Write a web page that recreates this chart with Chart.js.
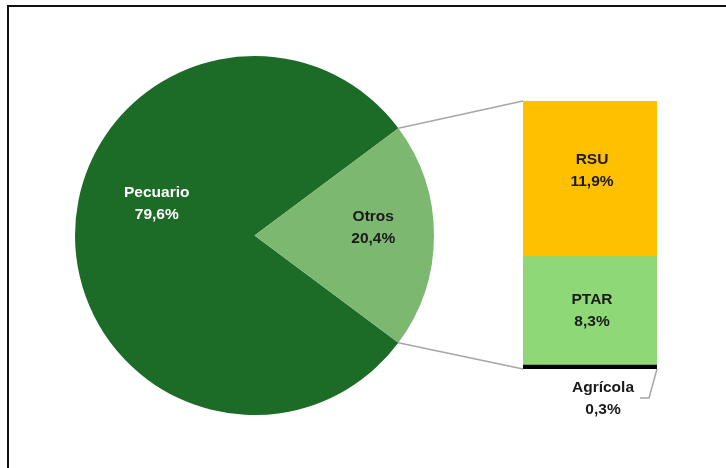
<!DOCTYPE html>
<html lang="es">
<head>
<meta charset="utf-8">
<title>Emisiones por sector</title>
<script src="https://cdn.jsdelivr.net/npm/chart.js@4"></script>
<style>
  html, body { margin: 0; padding: 0; background: #fff; }
  #wrap { position: relative; width: 726px; height: 468px; overflow: hidden; }
  #wrap canvas { position: absolute; left: 0; top: 0; }
  #frame {
    position: absolute; left: 7px; top: 5px; width: 740px; height: 480px;
    border-top: 2px solid #111; border-left: 2px solid #111;
  }
</style>
</head>
<body>
<div id="wrap">
  <div id="frame"></div>
  <canvas id="pie" width="726" height="468"></canvas>
  <canvas id="bar" width="726" height="468"></canvas>
</div>
<script>
// Reparto principal
const pieLabels = ['Pecuario', 'Otros'];
const pieValues = [79.6, 20.4];
const pieColors = ['#1C6B26', '#7DB871'];

// Desglose de "Otros" (de abajo hacia arriba)
const barLabels = ['Agrícola', 'PTAR', 'RSU'];
const barValues = [0.3, 8.3, 11.9];
const barColors = ['#000000', '#8ED877', '#FFC000'];

const FONT = 'bold 15.5px "Liberation Sans", Arial, sans-serif';
const fmt = v => v.toFixed(1).replace('.', ',') + '%';

function twoLines(ctx, x, y, a, b, color) {
  ctx.save();
  ctx.font = FONT;
  ctx.fillStyle = color;
  ctx.textAlign = 'center';
  ctx.textBaseline = 'middle';
  ctx.fillText(a, x, y - 11);
  ctx.fillText(b, x, y + 11);
  ctx.restore();
}

// etiquetas de la torta, desplazadas desde el punto medio de cada sector
const pieLabelPlugin = {
  id: 'pieLabels',
  afterDatasetsDraw(chart) {
    const shift = [[-8, -32], [29, -8]];
    const textColor = ['#ffffff', '#1a1a1a'];
    chart.getDatasetMeta(0).data.forEach((arc, i) => {
      const p = arc.tooltipPosition();
      twoLines(chart.ctx, p.x + shift[i][0], p.y + shift[i][1],
        pieLabels[i], fmt(pieValues[i]), textColor[i]);
    });
  }
};

// giro para que "Otros" quede centrado a la derecha
const otrosSweep = pieValues[1] / pieValues.reduce((a, b) => a + b, 0) * 360;

const pieChart = new Chart(document.getElementById('pie'), {
  type: 'pie',
  data: {
    labels: pieLabels,
    datasets: [{ data: pieValues, backgroundColor: pieColors, borderWidth: 0 }]
  },
  options: {
    responsive: false,
    animation: false,
    devicePixelRatio: 1,
    rotation: 90 + otrosSweep / 2,
    layout: { padding: { left: 75, top: 56, right: 292, bottom: 53 } },
    plugins: { legend: { display: false }, tooltip: { enabled: false } }
  },
  plugins: [pieLabelPlugin]
});

// líneas de unión torta -> barra, etiquetas de la barra y guía de Agrícola
const connectorPlugin = {
  id: 'connectors',
  afterDatasetsDraw(chart) {
    const ctx = chart.ctx;
    const arc = pieChart.getDatasetMeta(0).data[1];
    const bottom = chart.getDatasetMeta(0).data[0];
    const top = chart.getDatasetMeta(barValues.length - 1).data[0];
    const left = top.x - top.width / 2;
    const right = top.x + top.width / 2;
    const r = arc.outerRadius;

    ctx.save();
    ctx.strokeStyle = '#A6A6A6';
    ctx.lineWidth = 1.5;
    ctx.beginPath();
    ctx.moveTo(arc.x + r * Math.cos(arc.startAngle), arc.y + r * Math.sin(arc.startAngle));
    ctx.lineTo(left, top.y);
    ctx.moveTo(arc.x + r * Math.cos(arc.endAngle), arc.y + r * Math.sin(arc.endAngle));
    ctx.lineTo(left, bottom.base);
    // guía de la etiqueta de Agrícola
    ctx.moveTo(right, bottom.base);
    ctx.lineTo(right - 8, bottom.base + 29);
    ctx.lineTo(right - 17, bottom.base + 29);
    ctx.stroke();
    ctx.restore();

    const shift = [0, 0, -8];
    for (let i = 1; i < barValues.length; i++) {
      const el = chart.getDatasetMeta(i).data[0];
      twoLines(ctx, el.x + 2, (el.y + el.base) / 2 + shift[i],
        barLabels[i], fmt(barValues[i]), '#1a1a1a');
    }
    twoLines(ctx, right - 54, bottom.base + 30, barLabels[0], fmt(barValues[0]), '#1a1a1a');
  }
};

new Chart(document.getElementById('bar'), {
  type: 'bar',
  data: {
    labels: ['Otros'],
    datasets: barValues.map((v, i) => ({
      label: barLabels[i],
      data: [v],
      backgroundColor: barColors[i],
      borderWidth: 0,
      barPercentage: 1,
      categoryPercentage: 1
    }))
  },
  options: {
    responsive: false,
    animation: false,
    devicePixelRatio: 1,
    layout: { padding: { left: 523, top: 101, right: 69, bottom: 99 } },
    scales: {
      x: { display: false, stacked: true },
      y: { display: false, stacked: true, min: 0, max: 20.5 }
    },
    plugins: { legend: { display: false }, tooltip: { enabled: false } }
  },
  plugins: [connectorPlugin]
});
</script>
</body>
</html>
